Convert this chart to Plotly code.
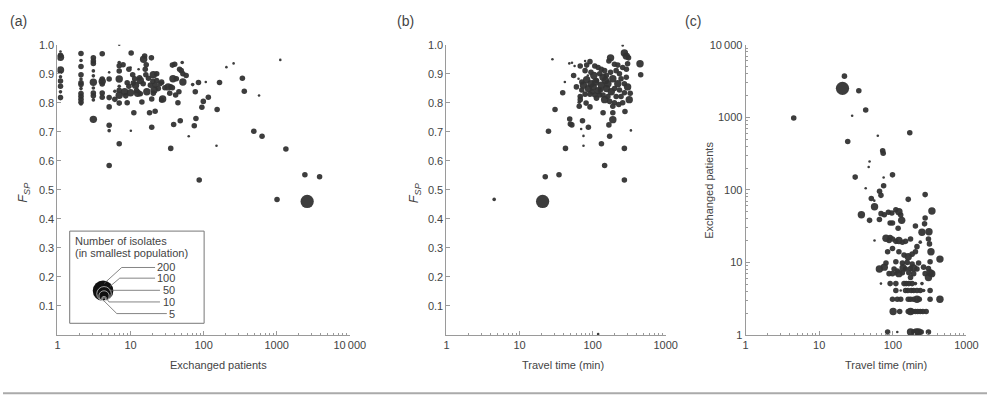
import math
import plotly.graph_objects as go

W, H = 1003, 404


def pxx(x):
    return x / W


def pxy(y):
    return 1 - y / H


# isolate counts used as bubble-size categories
T, S, M, L, B = 3, 6, 14, 25, 80

# ---------------- Panel (a): exchanged patients vs F_SP ----------------
a_exchanged = [
    1.1, 1.1, 1.1, 1.1, 1.1, 1.1, 1.1, 1.1, 1.1, 1.1,
    2.1, 2.1, 2.1, 2.1, 2.1, 2.1, 2.1, 2.1, 2.1, 2.1, 2.1, 2.1, 2.1,
    3.1, 3.1, 3.1, 3.1, 3.1, 3.1, 3.1, 3.1, 3.1, 3.1, 3.1,
    4.1, 4.1, 4.1, 4.1, 4.1, 4.1,
    5.1, 5.1, 5.1, 5.1, 5.1, 5.1, 5.1,
    6.1, 6.1,
    7.0, 7.0, 7.0, 7.0, 7.0, 7.0, 7.0, 7.0, 7.0, 7.0,
    7.9, 8.3, 8.6, 9.0, 9.0, 9.5, 9.5, 10.0, 10.2, 10.0, 10.1, 10.7, 10.9, 11.1,
    11.4, 11.7, 12.1, 12.5, 12.9, 13.3, 13.6, 13.6, 14.3, 14.9, 15.1, 15.6, 15.9,
    16.2, 16.4, 16.7, 17.6, 18.2, 18.7, 19.3, 19.5, 19.5, 20.2, 20.5, 21.0, 20.5,
    21.7, 21.7, 22.8, 22.8, 24.0, 25.3, 26.6, 26.6, 27.5, 27.5, 29.5, 32.7, 34.4,
    35.5, 35.5, 37.4, 37.4, 38.1, 38.9, 40.2, 41.4, 42.3, 44.5, 45.9, 46.9, 47.9,
    49.4, 50.9, 52.0, 52.0, 57.7, 62.5, 70.8, 74.5, 76.9, 78.5, 85.0, 87.0, 94.6,
    99.0, 107, 116, 150, 153, 165, 205, 257, 339, 360, 486, 573, 630, 1010, 1120,
    1335, 2430, 3860, 2610,
]
a_fsp = [
    0.977, 0.964, 0.957, 0.913, 0.905, 0.890, 0.875, 0.857, 0.838, 0.818,
    0.970, 0.946, 0.925, 0.897, 0.882, 0.869, 0.863, 0.849, 0.832, 0.823, 0.812, 0.802, 0.796,
    0.955, 0.944, 0.936, 0.910, 0.893, 0.871, 0.851, 0.834, 0.824, 0.810, 0.743,
    0.969, 0.882, 0.874, 0.865, 0.834, 0.819,
    0.905, 0.882, 0.818, 0.786, 0.723, 0.704, 0.584,
    0.840, 0.812,
    1.000, 0.939, 0.928, 0.910, 0.882, 0.857, 0.843, 0.826, 0.799, 0.659,
    0.931, 0.838, 0.824, 0.869, 0.800, 0.857, 0.916, 0.835, 0.972, 0.922, 0.704, 0.897, 0.868, 0.766,
    0.883, 0.861, 0.842, 0.833, 0.916, 0.886, 0.877, 0.831, 0.803, 0.866, 0.950, 0.961, 0.916,
    0.897, 0.931, 0.838, 0.885, 0.766, 0.861, 0.955, 0.716, 0.813, 0.874, 0.897, 0.844, 0.833,
    0.771, 0.861, 0.900, 0.877, 0.849, 0.866, 0.872, 0.810, 0.868, 0.813, 0.852, 0.855, 0.833,
    0.855, 0.643, 0.930, 0.852, 0.883, 0.725, 0.933, 0.827, 0.883, 0.800, 0.838, 0.916, 0.738,
    0.911, 0.939, 0.900, 0.872, 0.894, 0.685, 0.863, 0.721, 0.838, 0.746, 0.870, 0.534, 0.785,
    0.805, 0.872, 0.819, 0.652, 0.777, 0.870, 0.923, 0.936, 0.885, 0.840, 0.702, 0.825, 0.685, 0.467, 0.948,
    0.641, 0.552, 0.545, 0.460,
]
a_isolates = [
    T, M, L, L, S, S, M, M, S, M,
    M, S, M, M, S, M, M, S, M, M, M, M, S,
    M, M, M, S, S, L, S, M, M, S, L,
    M, M, L, M, M, M,
    T, M, M, M, M, S, M,
    S, M,
    T, S, M, M, L, S, M, L, M, M,
    M, L, M, M, M, M, M, L, M, T, T, M, M, M,
    M, L, M, L, T, M, L, M, M, M, L, M, M,
    M, M, L, M, M, M, M, M, M, M, L, L, M,
    M, M, M, M, M, M, M, M, S, L, M, L, M,
    M, M, M, M, L, M, M, M, M, M, M, M, M,
    M, S, M, L, M, T, S, M, M, M, M, M, M,
    M, T, M, T, M, M, T, T, M, M, M, T, M, M, T,
    M, M, M, B,
]

# ---------------- Panel (b): travel time vs F_SP ----------------
b_travel = [
    4.5, 20.7, 22.5, 34.7, 24.9, 30.6, 42.5, 39.0, 28.2, 41.7,
    48.6, 49.6, 52.0, 69.7, 72.7, 87.5, 75.0, 75.0, 132, 146,
    171, 167, 189, 139, 189, 277, 272, 272, 334, 119,
    258, 272, 289, 310, 301, 445, 455, 327, 317, 258,
    221, 176, 167, 199, 233, 245, 272, 221, 199, 180,
    162, 146, 171, 199, 245, 272, 189, 48.0, 52.2, 56.7,
    67.7, 78.9, 83.0, 92.0, 107, 119, 132, 146, 55.0, 64.2,
    71.2, 75.0, 83.0, 87.5, 95.0, 102, 113, 119, 132, 139,
    154, 162, 125, 107, 92.0, 78.9, 67.7, 67.7, 65.6, 65.6,
    81.4, 92.0, 113, 139, 78.9, 104, 110, 125, 150, 176,
    189, 210, 233, 258, 289, 301, 95.0, 86.0, 60.0, 71.0,
    99.0, 128, 155, 210, 228, 290,
]
b_fsp = [
    0.467, 0.460, 0.545, 0.552, 0.702, 0.777, 0.643, 0.835, 0.950, 0.872,
    0.744, 0.727, 0.724, 0.710, 0.738, 0.716, 0.686, 0.652, 0.659, 0.584,
    0.685, 0.724, 0.742, 0.766, 0.766, 0.770, 0.643, 0.534, 0.705, 0.003,
    0.998, 0.972, 0.961, 0.955, 0.935, 0.935, 0.897, 0.833, 0.811, 0.922,
    0.930, 0.955, 0.944, 0.933, 0.900, 0.883, 0.866, 0.866, 0.849, 0.838,
    0.822, 0.811, 0.805, 0.800, 0.822, 0.835, 0.788, 0.936, 0.938, 0.927,
    0.927, 0.944, 0.930, 0.942, 0.927, 0.922, 0.916, 0.911, 0.894, 0.883,
    0.872, 0.861, 0.880, 0.849, 0.866, 0.855, 0.877, 0.842, 0.861, 0.888,
    0.894, 0.866, 0.827, 0.827, 0.830, 0.830, 0.822, 0.811, 0.802, 0.788,
    0.799, 0.786, 0.816, 0.827, 0.911, 0.894, 0.872, 0.900, 0.877, 0.905,
    0.883, 0.911, 0.844, 0.800, 0.888, 0.855, 0.905, 0.894, 0.855, 0.844,
    0.838, 0.844, 0.849, 0.822, 0.794, 0.916,
]
b_isolates = [
    S, B, M, M, M, M, M, M, T, T,
    M, M, M, T, M, M, T, T, M, M,
    M, M, L, M, M, M, M, M, T, T,
    T, L, L, M, M, L, M, M, L, M,
    M, L, M, M, M, M, M, L, M, L,
    M, L, M, M, M, M, M, T, T, T,
    M, T, M, M, M, M, M, M, M, T,
    M, L, L, L, L, L, M, L, L, L,
    M, L, M, M, M, M, M, M, S, M,
    M, M, M, M, M, L, L, M, L, M,
    L, M, M, M, M, L, M, T, M, M,
    M, M, L, M, M, M,
]

# ---------------- Panel (c): travel time vs exchanged patients ----------------
c_travel = [
    4.5, 22.0, 20.7, 34.5, 42.8, 28.0, 24.4, 170, 62.5, 72.8,
    74.0, 48.3, 47.0, 30.8, 75.0, 99.0, 42.8, 75.0, 66.0, 69.0,
    275, 51.0, 162, 56.0,
    37.4, 48.3, 56.4, 69.2, 76.6, 87.0, 97.0, 110, 121, 128,
    132, 92.0, 99.0, 65.7, 56.4, 275, 270, 340, 118, 203,
    249, 310, 92.0, 80.7, 89.0, 99.0, 110, 121, 135, 149,
    174, 213, 236, 305, 315, 85.0, 99.0, 121, 142, 162,
    183, 203, 330, 437, 80.7, 110, 135, 157, 183, 224,
    321, 65.7, 76.6, 104, 115, 138, 149, 174, 192, 213,
    262, 305, 89.0, 99.0, 110, 121, 135, 165, 192, 275,
    321, 338, 174, 305, 69.0, 92.0, 110, 142, 152, 165,
    183, 203, 249, 110, 128, 149, 160, 178, 192, 213,
    236, 262, 321, 99.0, 115, 128, 162, 174, 192, 213,
    229, 321, 437, 101, 124, 162, 174, 186, 203, 218,
    236, 256, 284, 85.0, 115, 174, 192, 208, 224, 243,
    305,
]
c_exchanged = [
    980, 3700, 2510, 2330, 1260, 1050, 464, 612, 558, 345,
    320, 246, 207, 150, 148, 161, 105, 114, 96, 84,
    86, 76, 74, 71,
    45.4, 38.0, 58.6, 47.0, 45.4, 49.0, 48.0, 53.0, 50.0, 45.0,
    38.0, 35.0, 35.0, 39.0, 20.0, 41.0, 34.0, 51.0, 29.5, 31.7,
    26.0, 26.5, 22.0, 21.5, 20.0, 21.0, 19.5, 20.0, 19.0, 19.5,
    21.0, 16.5, 19.0, 21.0, 18.0, 14.0, 15.5, 14.0, 12.6, 12.0,
    13.0, 14.0, 14.0, 11.1, 9.8, 10.2, 9.8, 10.0, 9.5, 9.8,
    10.2, 8.1, 8.6, 8.1, 7.6, 8.4, 8.1, 8.2, 8.4, 8.1,
    8.6, 8.2, 7.0, 7.0, 7.0, 7.0, 7.2, 7.2, 7.0, 7.0,
    7.2, 7.0, 6.2, 6.2, 5.1, 5.1, 5.1, 5.1, 5.1, 5.1,
    5.1, 5.1, 5.1, 4.1, 4.1, 4.1, 4.1, 4.1, 4.1, 4.1,
    4.1, 4.1, 4.1, 3.1, 3.1, 3.1, 3.1, 3.1, 3.1, 3.1,
    3.1, 3.1, 3.1, 2.1, 2.1, 2.1, 2.1, 2.1, 2.1, 2.1,
    2.1, 2.1, 2.1, 1.1, 1.1, 1.1, 1.1, 1.1, 1.1, 1.1,
    1.1,
]
c_isolates = [
    M, M, B, M, M, T, M, M, T, M,
    M, T, T, M, T, M, T, M, M, M,
    M, M, M, T,
    L, M, L, M, M, M, M, M, L, M,
    L, M, M, M, T, M, M, L, M, M,
    L, L, M, L, M, M, M, L, M, M,
    M, M, S, M, M, M, M, M, M, L,
    M, M, L, L, M, M, M, M, M, M,
    M, L, L, M, M, L, M, M, L, M,
    M, M, M, M, S, L, M, M, M, M,
    L, L, M, L, T, M, M, M, M, M,
    M, S, S, M, T, M, M, M, M, M,
    M, S, M, M, M, M, M, M, M, L,
    M, M, L, L, M, M, L, M, M, M,
    M, M, M, M, T, L, M, L, L, M,
    M,
]

# legend
legend_counts = [200, 100, 50, 10, 5]
legend_labels = ["200", "100", "50", "10", "5"]

x_major = [1, 10, 100, 1000, 10000]
x_major_text = ["1", "10", "100", "1000", "10\u2009000"]
y_fsp_ticks = [0.1, 0.2, 0.3, 0.4, 0.5, 0.6, 0.7, 0.8, 0.9, 1.0]
y_fsp_text = ["0.1", "0.2", "0.3", "0.4", "0.5", "0.6", "0.7", "0.8", "0.9", "1.0"]

MAXD = 21.0


def diam(n):
    return MAXD * math.sqrt(n / 200.0)


def minor_vals(decades):
    return [k * 10 ** d for d in range(decades) for k in range(2, 10)]


DOT = "#333333"
TXT = "#444444"
AX = "#9a9a9a"
FONT = "Liberation Sans, Arial, sans-serif"

fig = go.Figure()
for xs, ys, ns, xa, ya in [
    (a_exchanged, a_fsp, a_isolates, "x", "y"),
    (b_travel, b_fsp, b_isolates, "x2", "y2"),
    (c_travel, c_exchanged, c_isolates, "x3", "y3"),
]:
    fig.add_trace(go.Scatter(
        x=xs, y=ys, mode="markers", xaxis=xa, yaxis=ya,
        marker=dict(size=[diam(n) for n in ns], color=DOT, opacity=0.95,
                    line=dict(width=0)),
        showlegend=False, hoverinfo="skip",
    ))

ydom = [pxy(339), pxy(40)]
common_axis = dict(showline=True, linecolor=AX, linewidth=1, showgrid=False,
                   zeroline=False, ticks="inside", ticklen=4, tickcolor=AX,
                   tickwidth=1, tickfont=dict(size=11, color=TXT, family=FONT))


def xlog(domain, decades, anchor):
    d = dict(common_axis)
    d.update(type="log", range=[0, decades], domain=domain, anchor=anchor,
             tickmode="array", tickvals=x_major[:decades + 1],
             ticktext=x_major_text[:decades + 1],
             minor=dict(tickmode="array", tickvals=minor_vals(decades),
                        ticks="inside", ticklen=2, tickcolor=AX))
    return d


def yfsp(anchor):
    d = dict(common_axis)
    d.update(range=[0, 1.0], domain=ydom, anchor=anchor, tickmode="array",
             tickvals=y_fsp_ticks, ticktext=y_fsp_text)
    return d


ylog = dict(common_axis)
ylog.update(type="log", range=[0, 4], domain=ydom, anchor="x3", tickmode="array",
            tickvals=x_major, ticktext=x_major_text,
            minor=dict(tickmode="array", tickvals=minor_vals(4), ticks="inside",
                       ticklen=2, tickcolor=AX))

fig.update_layout(
    width=W, height=H, margin=dict(l=0, r=0, t=0, b=0),
    paper_bgcolor="white", plot_bgcolor="white",
    font=dict(family=FONT, color=TXT, size=11),
    xaxis=xlog([pxx(55.5), pxx(353.5)], 4, "y"),
    yaxis=yfsp("x"),
    xaxis2=xlog([pxx(452), pxx(675.5)], 3, "y2"),
    yaxis2=yfsp("x2"),
    xaxis3=xlog([pxx(757), pxx(982)], 3, "y3"),
    yaxis3=ylog,
)

ann = []


def text(x, y, s, size=11, xanchor="center", angle=0):
    ann.append(dict(x=pxx(x), y=pxy(y), xref="paper", yref="paper", text=s,
                    showarrow=False, xanchor=xanchor, yanchor="middle",
                    textangle=angle, borderpad=0,
                    font=dict(size=size, color=TXT, family=FONT)))


text(16, 15, "(a)", 14)
text(410, 15, "(b)", 14)
text(703, 15, "(c)", 14)
text(220, 370, "Exchanged patients")
text(571, 370, "Travel time (min)")
text(900, 370, "Travel time (min)")
text(720, 190, "Exchanged patients", angle=-90)
fsp = "<i>F</i><sub><i>SP</i></sub>"
text(21, 193, fsp, 13, angle=-90)
text(419, 193, fsp, 13, angle=-90)

# legend box
shapes = [dict(type="rect", xref="paper", yref="paper", x0=pxx(68), x1=pxx(205),
               y0=pxy(327), y1=pxy(232), line=dict(color="#777777", width=1),
               fillcolor="white", layer="below")]
text(72, 242, "Number of isolates", 11, xanchor="left")
text(72, 255, "(in smallest population)", 11, xanchor="left")

cx, ybot = 102, 304
for i, n in enumerate(legend_counts):
    r = diam(n) / 2
    cy = ybot - r
    if i == 0:
        shapes.append(dict(type="circle", xref="paper", yref="paper",
                           x0=pxx(cx - r), x1=pxx(cx + r), y0=pxy(cy + r), y1=pxy(cy - r),
                           fillcolor="#111111", line=dict(width=0)))
    else:
        shapes.append(dict(type="circle", xref="paper", yref="paper",
                           x0=pxx(cx + 1 - r), x1=pxx(cx + 1 + r), y0=pxy(cy + r), y1=pxy(cy - r),
                           fillcolor="rgba(0,0,0,0)", line=dict(width=0.7, color="#dddddd")))

label_y = [269.5, 280.5, 293, 305, 317]
label_end = [155, 155, 160, 160, 167]
label_mid = [121, 119, 112, 108, 116]
label_tip = [(103, 286), (109, 289), (108, 293), (104, 299), (101, 302)]
for lab, ly, le, lm, tip in zip(legend_labels, label_y, label_end, label_mid, label_tip):
    text(176, ly, lab, 11, xanchor="right")
    path = "M {} {} L {} {} L {} {}".format(pxx(le), pxy(ly), pxx(lm), pxy(ly),
                                          pxx(tip[0]), pxy(tip[1]))
    shapes.append(dict(type="path", xref="paper", yref="paper", path=path,
                       line=dict(color="#666666", width=0.8)))

# bottom rule
shapes.append(dict(type="line", xref="paper", yref="paper", x0=0, x1=1,
                   y0=pxy(399), y1=pxy(399), line=dict(color="#aaaaaa", width=2)))

fig.update_layout(annotations=ann, shapes=shapes)
fig.write_html("out.html")
